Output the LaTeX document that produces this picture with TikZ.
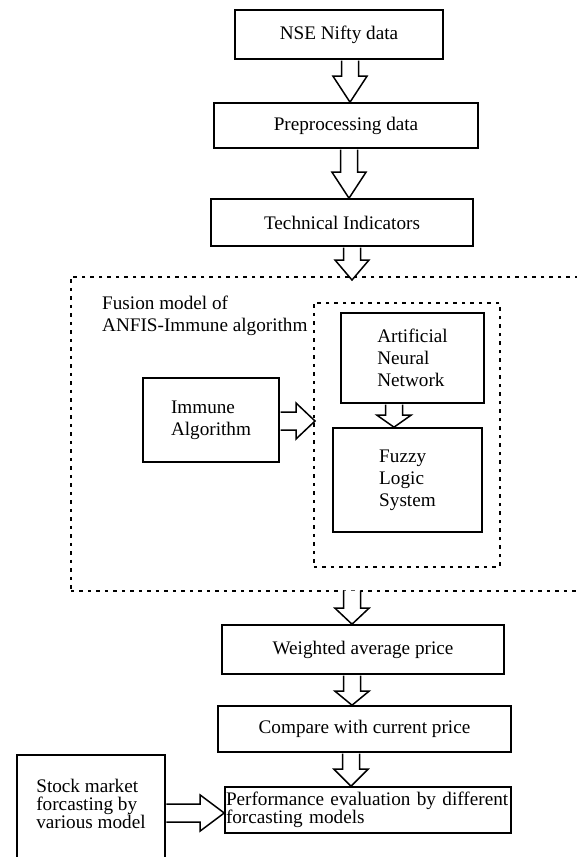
\documentclass[tikz,border=0pt]{standalone}
\usepackage{fontspec}
\setmainfont{Liberation Serif}
\usetikzlibrary{calc}
\newcommand{\blkdown}[4]{%
  \draw[blk] let \p1=(#1), \p2=(#2) in
  (#3pt-8.5pt,\y1-0.8pt) -- (#3pt-8.5pt,\y2+#4pt) -- (#3pt-17pt,\y2+#4pt) -- (#3pt,\y2)
  -- (#3pt+17pt,\y2+#4pt) -- (#3pt+8.5pt,\y2+#4pt) -- (#3pt+8.5pt,\y1-0.8pt);}
\newcommand{\blkright}[4]{%
  \draw[blk] let \p1=(#1), \p2=(#2) in
  (\x1+0.8pt,-#3pt+9pt) -- (\x2-#4pt,-#3pt+9pt) -- (\x2-#4pt,-#3pt+18pt) -- (\x2,-#3pt)
  -- (\x2-#4pt,-#3pt-18pt) -- (\x2-#4pt,-#3pt-9pt) -- (\x1+0.8pt,-#3pt-9pt);}
\begin{document}
\begin{tikzpicture}[x=1pt,y=-1pt,
  box/.style={draw, line width=1.6pt, inner sep=0pt, font=\fontsize{19.2}{22}\selectfont},
  dbox/.style={draw, line width=1.7pt, dash pattern=on 3.5pt off 5pt, inner sep=0pt},
  blk/.style={draw, fill=white, line width=1.5pt, line join=miter},
  txt/.style={inner sep=0pt, align=left, font=\fontsize{19.2}{22}\selectfont}]
\useasboundingbox (0,0) rectangle (577,857);
\clip (0,0) rectangle (577,857);
\fill[white] (0,0) rectangle (577,857);

% main column
\node[box, minimum width=208, minimum height=49] (nse) at (339,34.5) {NSE Nifty data};
\node[box, minimum width=264, minimum height=45] (pre) at (346,125.5) {Preprocessing data};
\node[box, minimum width=262, minimum height=47] (tech) at (342,222.5) {Technical Indicators};

% fusion model
\node[dbox, anchor=north west, minimum width=560, minimum height=314] (fusion) at (70,276) {};
\node[txt, anchor=west] (fusionlabel) at (102,316) {Fusion model of\\ANFIS-Immune algorithm};
\node[dbox, anchor=north west, minimum width=186, minimum height=264] (core) at (313,302) {};
\node[box, minimum width=143, minimum height=90, align=left] (ann) at (412.5,358) {Artificial\\Neural\\Network};
\node[box, minimum width=149, minimum height=104, align=left] (fls) at (407.5,480) {Fuzzy\\Logic\\System};
\node[box, minimum width=136, minimum height=84, align=left] (imm) at (211,420) {Immune\\Algorithm};

% lower column
\node[box, minimum width=282, minimum height=49] (wap) at (363,649.5) {Weighted average price};
\node[box, minimum width=293, minimum height=46] (cmp) at (364.5,729) {Compare with current price};
\node[box, minimum width=286, minimum height=46, text width=284, align=left,
      font=\fontsize{19.2}{17.8}\selectfont] (perf) at (368,810)
      {Performance evaluation by different\\forcasting models};
\node[draw, line width=1.6pt, inner sep=0pt, anchor=north west, minimum width=148, minimum height=116] (stock) at (16,754) {};
\node[txt, font=\fontsize{19.2}{17.6}\selectfont] (stocktext) at (91,804) {Stock market\\forcasting by\\various model};

% block arrows
\blkdown{nse.south}{pre.north}{350}{26}
\blkdown{pre.south}{tech.north}{349}{26}
\blkdown{tech.south}{$(fusion.north)+(0,4)$}{352}{20}
\blkdown{ann.south}{fls.north}{394}{12}
\blkright{imm.east}{$(core.west)+(2,0)$}{421}{19}
\blkdown{$(fusion.south)+(0,-2)$}{wap.north}{352}{16}
\blkdown{wap.south}{cmp.north}{352}{14}
\blkdown{cmp.south}{perf.north}{351}{17}
\blkright{stock.east}{perf.west}{813}{24}
\end{tikzpicture}
\end{document}
